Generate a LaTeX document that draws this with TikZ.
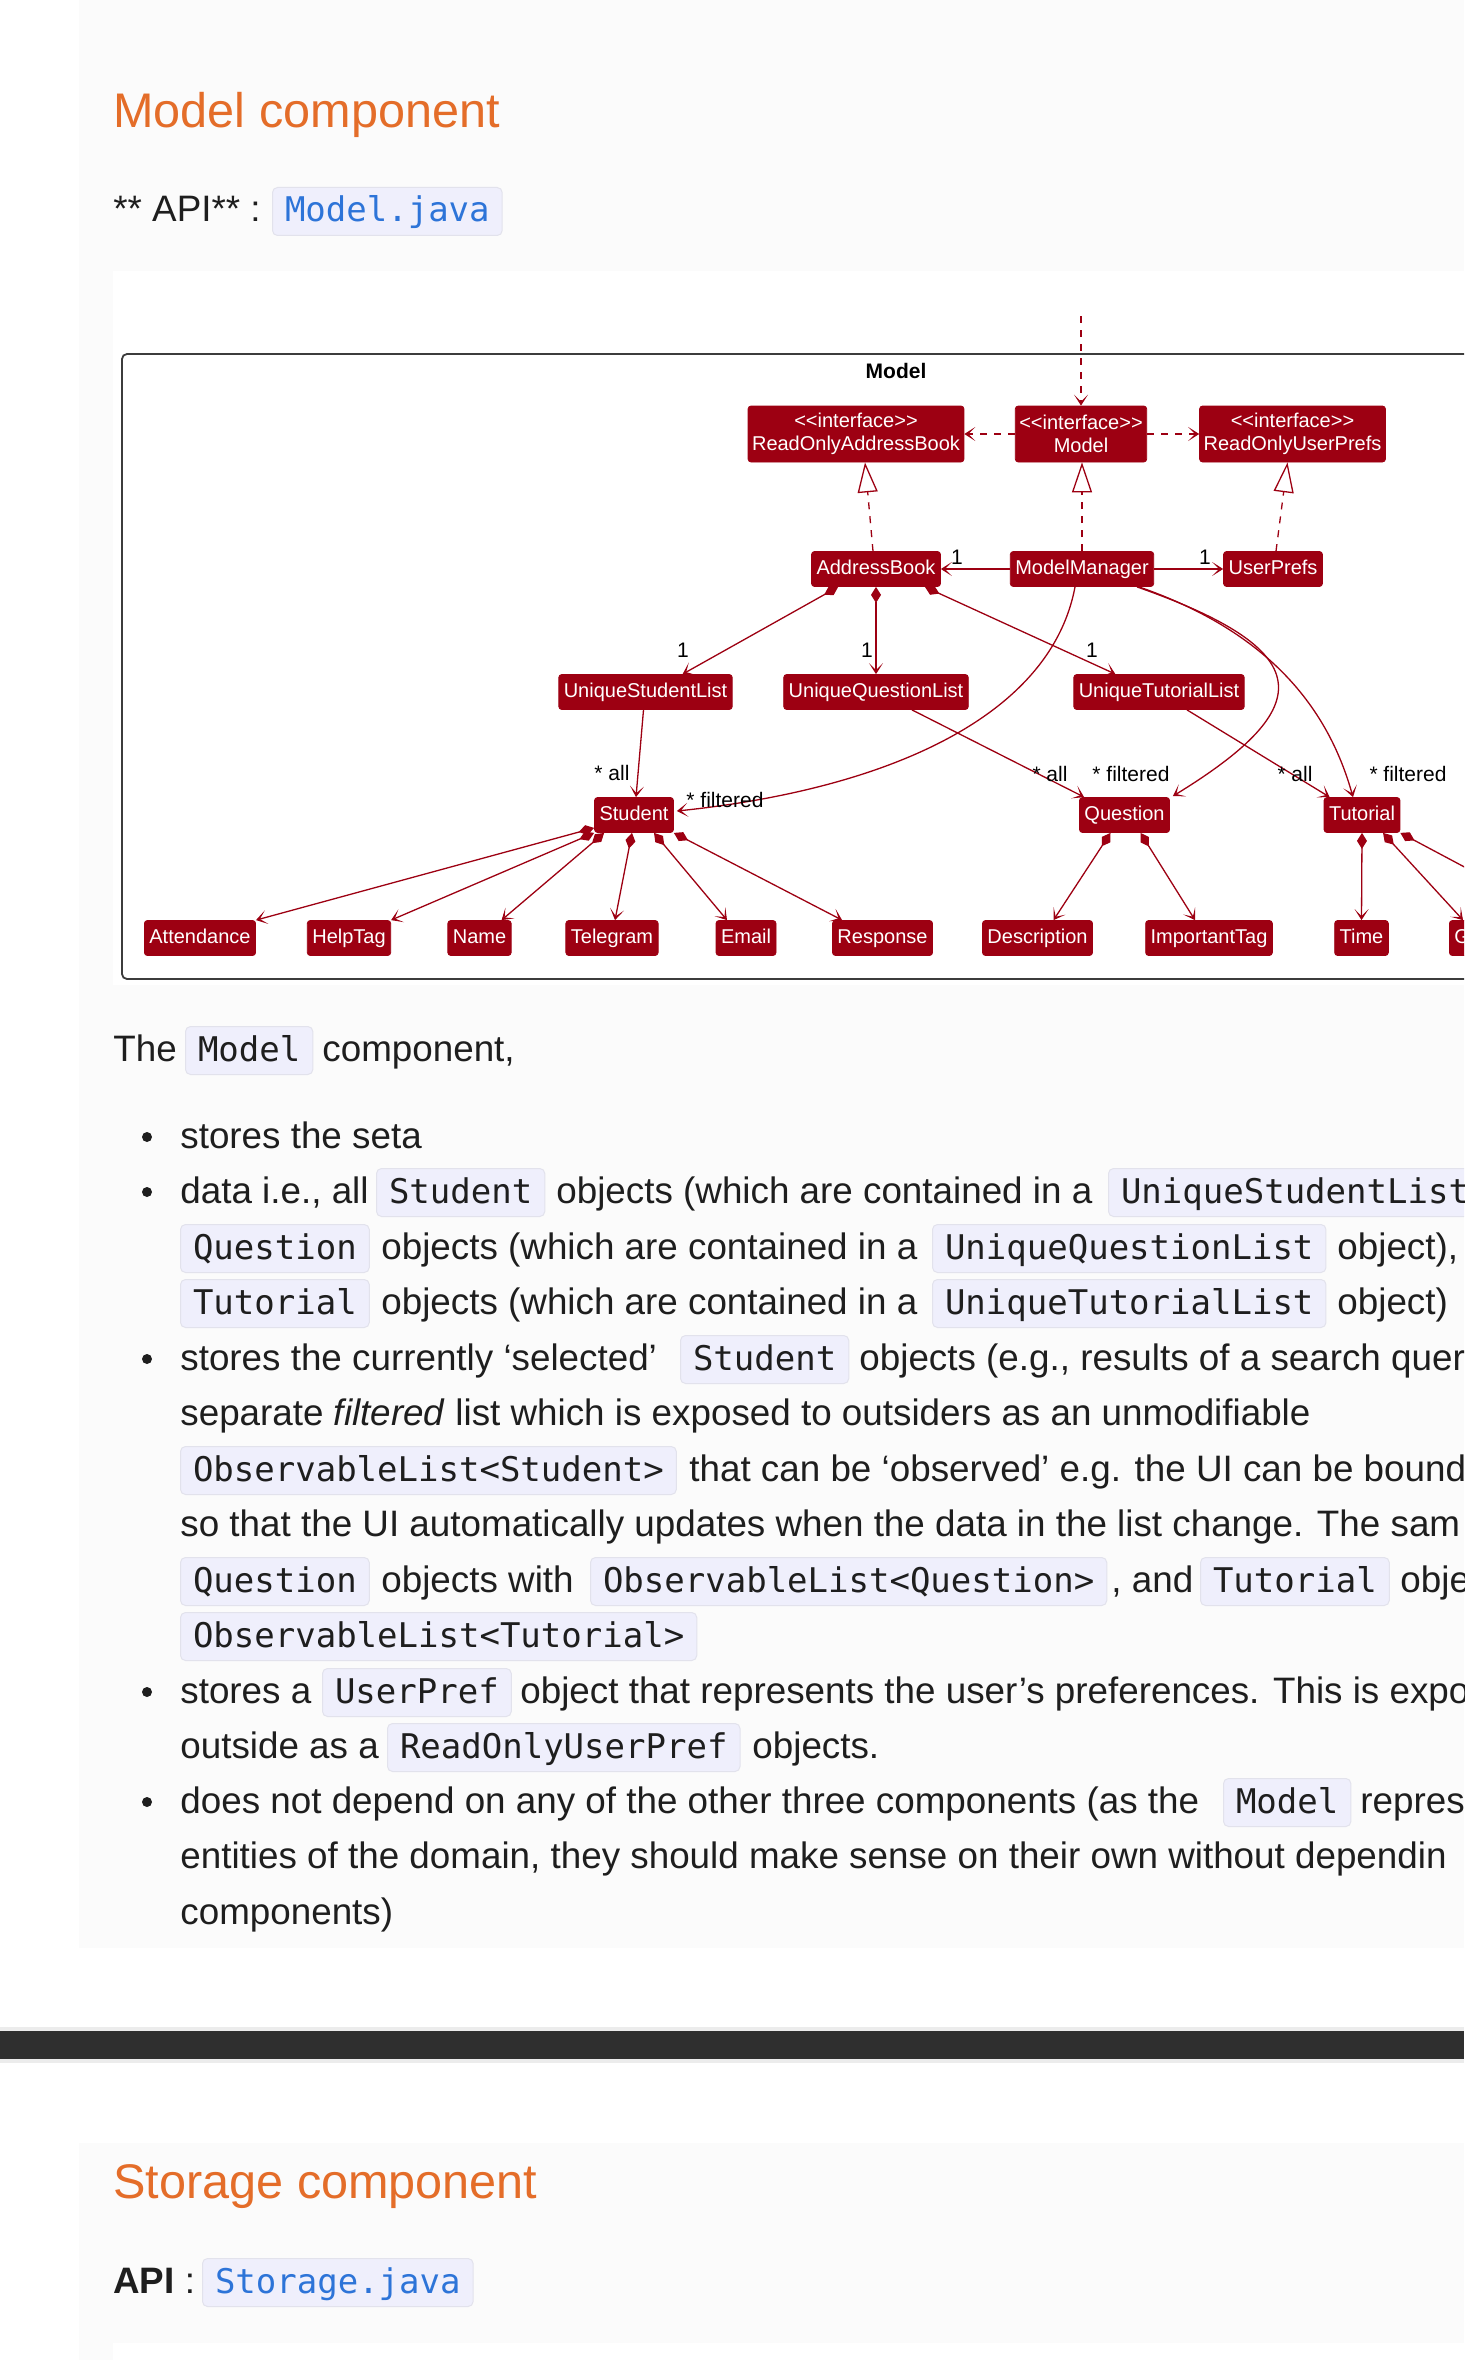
\documentclass[tikz,border=0pt]{standalone}
\usepackage{fontspec}
\setmainfont{Liberation Sans}
\newfontfamily\codefont{DejaVu Sans Mono}
\usetikzlibrary{arrows.meta,calc}
\definecolor{mred}{HTML}{9D0012}
\definecolor{panel}{HTML}{FBFBFB}
\definecolor{headc}{HTML}{E46D29}
\definecolor{bodyc}{HTML}{1E1E1E}
\definecolor{codebg}{HTML}{EFEFFC}
\definecolor{codebd}{HTML}{E2E2EC}
\definecolor{linkc}{HTML}{2D74D8}
\definecolor{darkband}{HTML}{2F2F2F}
\definecolor{lightband}{HTML}{ECECEC}
\definecolor{framec}{HTML}{3C3C3C}
\begin{document}
\begin{tikzpicture}[x=0.5pt,y=-0.5pt,
  boxbase/.style={fill=mred, draw=mred, text=white, rounded corners=1.5pt, font=\fontsize{10pt}{11.5pt}\selectfont, inner xsep=2.5pt, inner ysep=0pt},
  cls/.style={boxbase, text height=7.4pt, text depth=2.1pt, minimum height=17.5pt},
  ifc/.style={boxbase, inner xsep=2pt, minimum height=28pt, align=center},
  lbl/.style={font=\fontsize{10.5pt}{12pt}\selectfont, text=black, inner sep=0pt},
  con/.style={draw=mred, line width=0.65pt},
  arr/.style={con, -{Stealth[length=5.5pt,width=7pt,inset=3.5pt]}},
  dep/.style={arr, dash pattern=on 3.5pt off 3.5pt},
  real/.style={con, dash pattern=on 3.5pt off 3.5pt, -{Triangle[length=15pt,width=10pt,fill=white]}},
  comp/.style={con, {Diamond[length=8pt,width=5pt]}-{Stealth[length=5.5pt,width=7pt,inset=3.5pt]}},
  txt/.style={anchor=base west, inner sep=0pt, text=bodyc, font=\fontsize{18.4pt}{22pt}\selectfont},
  code/.style={anchor=base west, fill=codebg, draw=codebd, line width=0.5pt, rounded corners=2.5pt, inner xsep=6.25pt, inner ysep=0pt, text height=17.25pt, text depth=6.75pt, font=\codefont\fontsize{17pt}{20pt}\selectfont, text=bodyc},
  head/.style={anchor=base west, inner sep=0pt, text=headc, font=\fontsize{24.3pt}{28pt}\selectfont},
  bul/.style={circle, fill=bodyc, inner sep=0pt, minimum size=5pt}
]
\useasboundingbox (0,0) rectangle (1464,2360);
\clip (0,0) rectangle (1464,2360);
% backgrounds
\fill[white] (0,0) rectangle (1464,2360);
\fill[panel] (79,0) rectangle (1464,1948);
\fill[white] (113,271) rectangle (1464,985);
\fill[lightband] (0,2027) rectangle (1464,2063);
\fill[darkband] (0,2031) rectangle (1464,2059);
\fill[panel] (79,2143) rectangle (1464,2360);
\fill[white] (113,2343) rectangle (1464,2360);

% heading
\node[head] (h1) at (113,128) {Model component};
\node[txt] (api) at (113,222) {** API** :};
\node[code, text=linkc] (apic) at (272,222) {Model.java};

% diagram frame
\draw[framec, line width=0.9pt, rounded corners=2.5pt] (122,354) rectangle (1520,979);
\node[lbl, font=\bfseries\fontsize{10.5pt}{12pt}\selectfont] (mtitle) at (896,371) {Model};

% classes
\node[ifc] (roab) at (856,434) {<\kern0pt<interface>\kern0pt>\\ReadOnlyAddressBook};
\node[ifc] (mdl) at (1081,434) {<\kern0pt<interface>\kern0pt>\\Model};
\node[ifc] (roup) at (1292.5,434) {<\kern0pt<interface>\kern0pt>\\ReadOnlyUserPrefs};
\node[cls] (ab) at (876,569) {AddressBook};
\node[cls] (mm) at (1082,569) {ModelManager};
\node[cls] (up) at (1273,569) {UserPrefs};
\node[cls] (usl) at (645.5,692) {UniqueStudentList};
\node[cls] (uql) at (876,692) {UniqueQuestionList};
\node[cls] (utl) at (1159,692) {UniqueTutorialList};
\node[cls] (st) at (634,815) {Student};
\node[cls] (qu) at (1124.5,815) {Question};
\node[cls] (tu) at (1362,815) {Tutorial};
\node[cls] (att) at (200,938) {Attendance};
\node[cls] (ht) at (349,938) {HelpTag};
\node[cls] (nm) at (479.5,938) {Name};
\node[cls] (tg) at (612,938) {Telegram};
\node[cls] (em) at (746,938) {Email};
\node[cls] (rs) at (882.5,938) {Response};
\node[cls] (ds) at (1037.5,938) {Description};
\node[cls] (it) at (1209,938) {ImportantTag};
\node[cls] (tm) at (1361.5,938) {Time};
\node[cls, anchor=west, text width=40pt, align=left] (grp) at (1449,938) {G};
\coordinate (topin) at (1081,316);
\coordinate (offr) at (1564,920);

% dependencies and realizations
\draw[dep] (topin) -- (mdl.north);
\draw[dep] (mdl.west) -- (roab.east);
\draw[dep] (mdl.east) -- (roup.west);
\draw[real] ($(ab.north)+(-3,0)$) -- ($(roab.south)+(9,0)$);
\draw[real] (mm.north) -- (mm.north |- mdl.south);
\draw[real] ($(up.north)+(3,0)$) -- ($(roup.south)+(-5,0)$);

% associations
\draw[arr] (mm.west) -- (ab.east);
\draw[arr] (mm.east) -- (up.west);
\draw[comp] ($(ab.south west)+(27,0)$) -- ($(usl.north east)+(-50,0)$);
\draw[comp] (ab.south) -- (uql.north);
\draw[comp] ($(ab.south east)+(-16,0)$) -- ($(utl.north west)+(42,0)$);
\draw[arr] ($(usl.south)+(-2,0)$) -- ($(st.north)+(2,0)$);
\draw[arr] ($(uql.south)+(36,0)$) -- ($(qu.north west)+(5,0)$);
\draw[arr] ($(utl.south)+(28,0)$) -- ($(tu.north west)+(6,0)$);
\draw[arr] ($(mm.south)+(-7,0)$) .. controls (1050,720) and (880,790) .. ($(st.east)+(3,-4)$);
\draw[arr] ($(mm.south)+(55,0)$) .. controls (1317,650) and (1320,706) .. ($(qu.north east)+(3,-1)$);
\draw[arr] ($(mm.south)+(57,0)$) .. controls (1269,632) and (1328,708) .. ($(tu.north)+(-9,0)$);

% compositions
\draw[comp] ($(st.south west)+(0,-5)$) -- (att.north east);
\draw[comp] (st.south west) -- (ht.north east);
\draw[comp] ($(st.south west)+(10,0)$) -- ($(nm.north east)+(-10,0)$);
\draw[comp] ($(st.south)+(-2,0)$) -- ($(tg.north)+(3,0)$);
\draw[comp] ($(st.south)+(20,0)$) -- ($(em.north)+(-19,0)$);
\draw[comp] (st.south east) -- ($(rs.north west)+(10,0)$);
\draw[comp] ($(qu.south)+(-14,0)$) -- ($(ds.north)+(16,0)$);
\draw[comp] ($(qu.south)+(16,0)$) -- ($(it.north)+(-14,0)$);
\draw[comp] (tu.south) -- (tm.north);
\draw[comp] ($(tu.south)+(21,0)$) -- ($(grp.north west)+(14,0)$);
\draw[comp] (tu.south east) -- (offr);

% labels
\node[lbl] (l1) at (957,557) {1};
\node[lbl] (l2) at (1205,557) {1};
\node[lbl] (l3) at (683,650) {1};
\node[lbl] (l4) at (867,650) {1};
\node[lbl] (l5) at (1092,650) {1};
\node[lbl] (l6) at (612,773) {* all};
\node[lbl] (l7) at (725,800) {* filtered};
\node[lbl] (l8) at (1050,774) {* all};
\node[lbl] (l9) at (1131,774) {* filtered};
\node[lbl] (l10) at (1295,774) {* all};
\node[lbl] (l11) at (1408,774) {* filtered};

% text
\node[txt] (p0a) at (113,1061) {The};
\node[code] (p0b) at (185,1061) {Model};
\node[txt] (p0c) at (322,1061) {component,};

\node[bul] (b1) at (147,1137) {};
\node[txt] (p1) at (180,1148) {stores the seta};

\node[bul] (b2) at (147,1192) {};
\node[txt] (p2a) at (180,1203) {data i.e., all};
\node[code] (p2b) at (376,1203) {Student};
\node[txt] (p2c) at (556,1203) {objects (which are contained in a};
\node[code] (p2d) at (1108,1203) {UniqueStudentList};

\node[code] (p3a) at (180,1259) {Question};
\node[txt] (p3b) at (381,1259) {objects (which are contained in a};
\node[code] (p3c) at (932,1259) {UniqueQuestionList};
\node[txt] (p3d) at (1337,1259) {object),};

\node[code] (p4a) at (180,1314) {Tutorial};
\node[txt] (p4b) at (381,1314) {objects (which are contained in a};
\node[code] (p4c) at (932,1314) {UniqueTutorialList};
\node[txt] (p4d) at (1337,1314) {object)};

\node[bul] (b3) at (147,1359) {};
\node[txt] (p5a) at (180,1370) {stores the currently ‘selected’};
\node[code] (p5b) at (680,1370) {Student};
\node[txt] (p5c) at (859,1370) {objects (e.g., results of a search quer};

\node[txt] (p6) at (180,1425) {separate \textit{filtered} list which is exposed to outsiders as an unmodifiable};

\node[code] (p7a) at (180,1481) {ObservableList<Student>};
\node[txt] (p7b) at (689,1481) {that can be ‘observed’ e.g. the UI can be bound};

\node[txt] (p8) at (180,1536) {so that the UI automatically updates when the data in the list change. The sam};

\node[code] (p9a) at (180,1592) {Question};
\node[txt] (p9b) at (381,1592) {objects with};
\node[code] (p9c) at (590,1592) {ObservableList<Question>};
\node[txt] (p9d) at (1111,1592) {, and};
\node[code] (p9e) at (1200,1592) {Tutorial};
\node[txt] (p9f) at (1400,1592) {obje};

\node[code] (p10) at (180,1647) {ObservableList<Tutorial>};

\node[bul] (b4) at (147,1692) {};
\node[txt] (p11a) at (180,1703) {stores a};
\node[code] (p11b) at (322,1703) {UserPref};
\node[txt] (p11c) at (520,1703) {object that represents the user’s preferences. This is expo};

\node[txt] (p12a) at (180,1758) {outside as a};
\node[code] (p12b) at (387,1758) {ReadOnlyUserPref};
\node[txt] (p12c) at (752,1758) {objects.};

\node[bul] (b5) at (147,1802) {};
\node[txt] (p13a) at (180,1813) {does not depend on any of the other three components (as the};
\node[code] (p13b) at (1223,1813) {Model};
\node[txt] (p13c) at (1360,1813) {repres};

\node[txt] (p14) at (180,1868) {entities of the domain, they should make sense on their own without dependin};
\node[txt] (p15) at (180,1924) {components)};

% storage section
\node[head] (h2) at (113,2198) {Storage component};
\node[txt] (api2) at (113,2293) {\textbf{API} :};
\node[code, text=linkc] (api2c) at (202,2293) {Storage.java};
\end{tikzpicture}
\end{document}
